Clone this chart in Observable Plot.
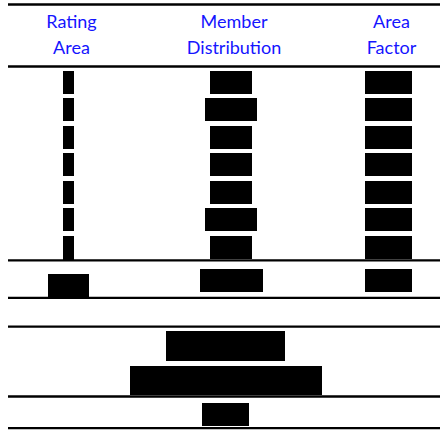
<!DOCTYPE html>
<html>
<head>
<meta charset="utf-8">
<script src="https://cdn.jsdelivr.net/npm/d3@7"></script>
<script src="https://cdn.jsdelivr.net/npm/@observablehq/plot@0.6"></script>
<style>
  html, body { margin: 0; padding: 0; background: #fff; }
  #chart svg { display: block; }
</style>
</head>
<body>
<div id="chart"></div>
<script>
// ---------------- DATA ----------------
// Column headers of the (redacted) rating-area table
const headers = ["Rating\nArea", "Member\nDistribution", "Area\nFactor"];
// Rating areas 1..7 (cell contents are blacked out in the source)
const ratingAreas = ["1", "2", "3", "4", "5", "6", "7"];
// Width of each black redaction box (px of hidden text), per column
const ratingAreaRedaction = [11, 11, 11, 11, 11, 11, 11];
const memberDistRedaction = [42, 52, 42, 42, 42, 52, 42];
const areaFactorRedaction = [47, 47, 47, 47, 47, 47, 47];
// Total row redactions (Rating Area, Member Distribution, Area Factor)
const totalRedaction = [41, 63, 47];
// Summary block redactions below the table
const summaryRedaction = [119, 192, 47];

// ---------------- LAYOUT ----------------
const W = 440, H = 432;
const colCenter = [68.5, 231, 388.5];
const headerShift = 2.5;
const ruleX1 = 8;
const rows = {top: 71, pitch: 27.45, h: 23};
const totalRow = {y: 269, h: 23, firstColDrop: 5};
const summaryRows = [{y: 331, h: 30}, {y: 366, h: 29}, {y: 403.3, h: 22.5}];
const summaryCenter = 225.5;
const ruleYs = [4, 66, 259.8, 297.3, 326.2, 396, 427.7];
const headerFont = 18, headerLine = 1.44, headerBaseline = 27.3;

// Build cells from data
const cells = [];
const cols = [ratingAreaRedaction, memberDistRedaction, areaFactorRedaction];
ratingAreas.forEach((area, i) => {
  cols.forEach((arr, c) => {
    const extra = (c === 0 && i === ratingAreas.length - 1) ? 1.3 : 0;
    cells.push({area, col: c, cx: colCenter[c], w: arr[i],
      y: rows.top + i * rows.pitch, h: rows.h + extra});
  });
});
totalRedaction.forEach((w, c) => {
  cells.push({area: "Total", col: c, cx: colCenter[c], w,
    y: totalRow.y + (c === 0 ? totalRow.firstColDrop : 0), h: totalRow.h + (c === 0 ? 1 : 0)});
});
summaryRedaction.forEach((w, i) => {
  cells.push({area: "Summary", col: 1, cx: summaryCenter, w,
    y: summaryRows[i].y, h: summaryRows[i].h});
});

const rules = ruleYs.map(y => ({y, x1: ruleX1, x2: W}));
// Plot places the first line's baseline 0.71*lineHeight em below y for lineAnchor "top"
const headerY = headerBaseline - 0.71 * headerLine * headerFont;
const headerData = headers.map((t, i) => ({t, x: colCenter[i] + headerShift, y: headerY}));

const chart = Plot.plot({
  width: W,
  height: H,
  margin: 0,
  x: {type: "linear", domain: [0, W], range: [0, W], axis: null},
  y: {type: "linear", domain: [0, H], range: [0, H], axis: null},
  marks: [
    Plot.ruleY(rules, {y: "y", x1: "x1", x2: "x2", stroke: "#000", strokeWidth: 2.3}),
    Plot.rect(cells, {
      x1: d => d.cx - d.w / 2, x2: d => d.cx + d.w / 2,
      y1: "y", y2: d => d.y + d.h,
      fill: "#000", shapeRendering: "crispEdges"
    }),
    Plot.text(headerData, {
      x: "x", y: "y", text: "t",
      lineAnchor: "top", lineHeight: headerLine,
      fontSize: headerFont, fill: "#1515ff",
      fontFamily: "Lato", letterSpacing: 0.45
    })
  ]
});
document.getElementById("chart").append(chart);
</script>
</body>
</html>
